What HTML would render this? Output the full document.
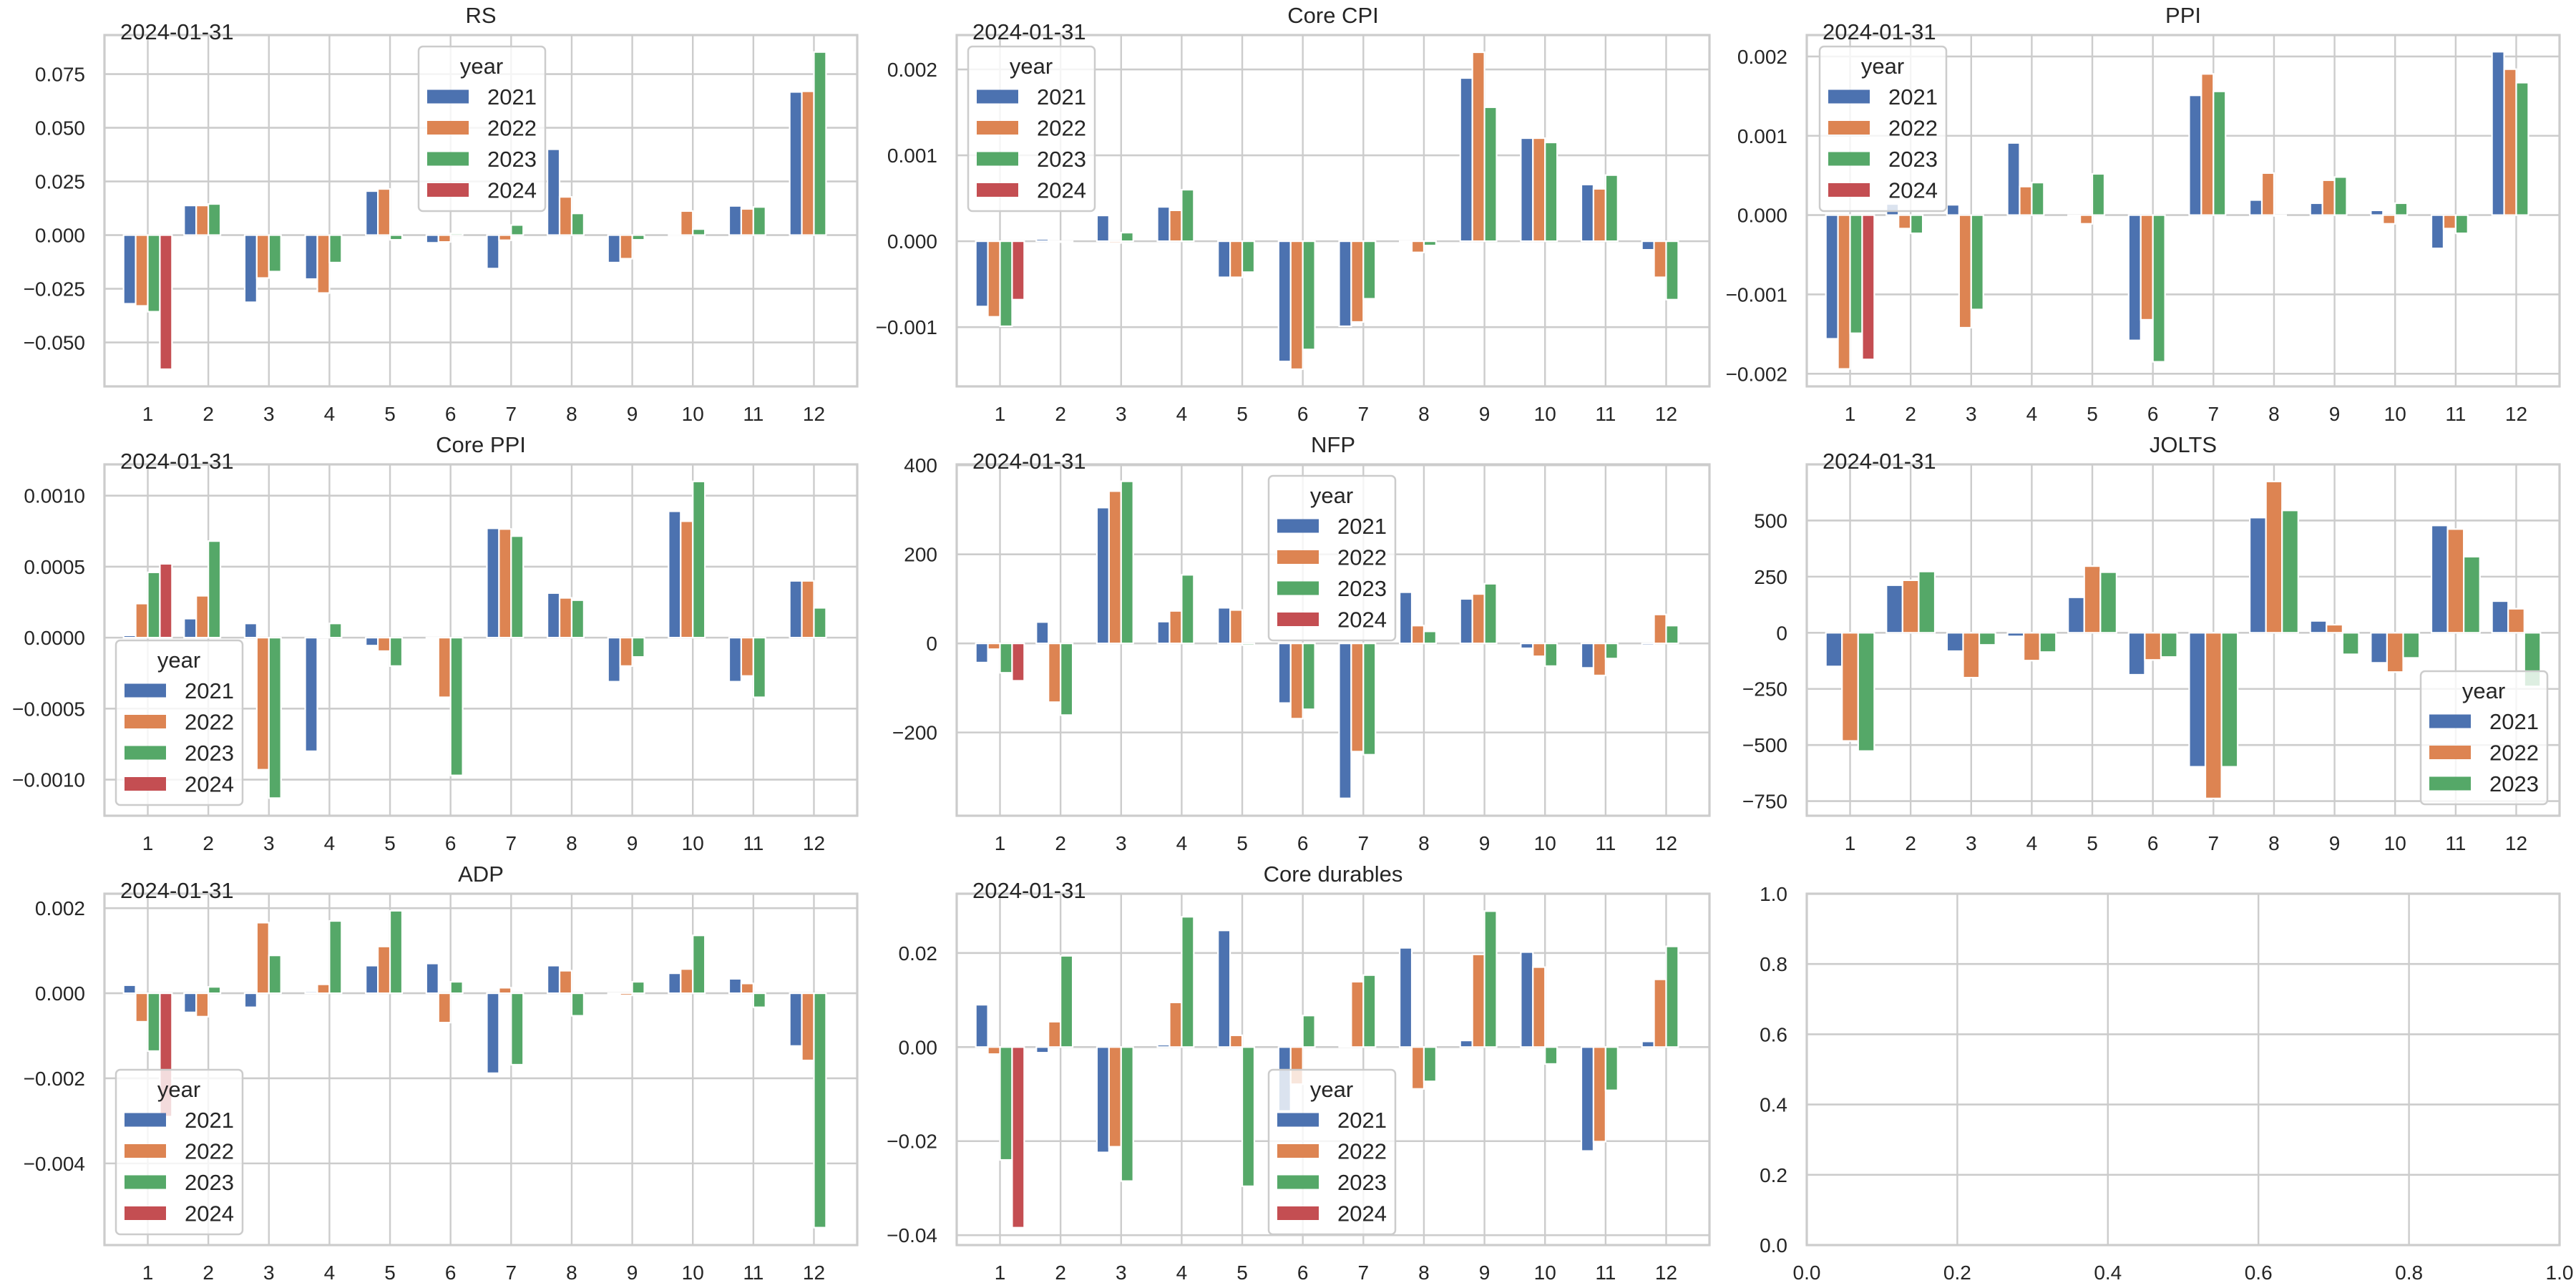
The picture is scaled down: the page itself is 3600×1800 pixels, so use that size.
<!DOCTYPE html>
<html><head><meta charset="utf-8"><style>
html,body{margin:0;padding:0;background:#fff}
svg{display:block;font-family:"Liberation Sans",Arial,sans-serif}
</style></head><body>
<svg id="fig" xmlns="http://www.w3.org/2000/svg" width="3600" height="1800" viewBox="0 0 3600 1800"></svg>
<script>
const months = [1,2,3,4,5,6,7,8,9,10,11,12];
const yearLabels = ['2021','2022','2023','2024'];
const colors = ['#4c72b0','#dd8452','#55a868','#c44e52'];
const N = null;
// RS
const rs2021 = [-0.032,0.0138,-0.0313,-0.0205,0.0205,-0.0036,-0.0156,0.040,-0.0128,0.0001,0.0136,0.0667];
const rs2022 = [-0.033,0.0138,-0.020,-0.027,0.0215,-0.0032,-0.0024,0.0178,-0.011,0.0112,0.0122,0.067];
const rs2023 = [-0.0357,0.0145,-0.017,-0.0128,-0.0022,0.0008,0.0047,0.0101,-0.0022,0.0028,0.0131,0.0853];
const rs2024 = [-0.0625,N,N,N,N,N,N,N,N,N,N,N];
const rsTicks = [-0.05,-0.025,0,0.025,0.05,0.075];
// Core CPI
const ccpi2021 = [-0.00076,0.000025,0.0003,0.0004,-0.00042,-0.0014,-0.00099,-0.00001,0.0019,0.0012,0.00066,-0.0001];
const ccpi2022 = [-0.00088,0,-0.00002,0.00036,-0.00042,-0.00149,-0.00094,-0.00013,0.0022,0.0012,0.00061,-0.00042];
const ccpi2023 = [-0.00099,-0.00001,0.0001,0.0006,-0.00036,-0.00126,-0.00067,-0.00005,0.00156,0.00115,0.00077,-0.00068];
const ccpi2024 = [-0.00068,N,N,N,N,N,N,N,N,N,N,N];
const ccpiTicks = [-0.001,0,0.001,0.002];
// PPI
const ppi2021 = [-0.00156,0.00014,0.00013,0.00091,0,-0.00158,0.00151,0.00019,0.00015,0.00006,-0.00042,0.00206];
const ppi2022 = [-0.00194,-0.00017,-0.00142,0.00036,-0.00011,-0.00132,0.00178,0.00053,0.00044,-0.00011,-0.00017,0.00184];
const ppi2023 = [-0.00149,-0.00023,-0.00119,0.00041,0.00052,-0.00185,0.00156,-0.00001,0.00048,0.00015,-0.00023,0.00167];
const ppi2024 = [-0.00182,N,N,N,N,N,N,N,N,N,N,N];
const ppiTicks = [-0.002,-0.001,0,0.001,0.002];
// Core PPI
const cppi2021 = [0.000016,0.000134,0.0001,-0.0008,-0.000056,0,0.00077,0.000314,-0.00031,0.00089,-0.00031,0.0004];
const cppi2022 = [0.00024,0.000295,-0.00093,0.00001,-0.000095,-0.00042,0.000765,0.00028,-0.0002,0.00082,-0.00027,0.0004];
const cppi2023 = [0.00046,0.00068,-0.00113,0.0001,-0.0002,-0.00097,0.000715,0.000264,-0.000136,0.0011,-0.00042,0.00021];
const cppi2024 = [0.00052,N,N,N,N,N,N,N,N,N,N,N];
const cppiTicks = [-0.001,-0.0005,0,0.0005,0.001];
// NFP
const nfp2021 = [-43,48,305,49,80,-134,-348,115,100,-11,-55,-4];
const nfp2022 = [-13,-132,342,73,75,-169,-243,40,111,-29,-72,65];
const nfp2023 = [-66,-161,364,154,-4,-148,-250,27,134,-51,-34,40];
const nfp2024 = [-84,N,N,N,N,N,N,N,N,N,N,N];
const nfpTicks = [-200,0,200,400];
// JOLTS
const jolts2021 = [-150,212,-82,-16,158,-187,-597,513,53,-134,478,141];
const jolts2022 = [-482,234,-200,-124,297,-121,-738,674,36,-175,462,107];
const jolts2023 = [-527,273,-54,-86,270,-108,-597,545,-96,-112,339,-239];
const joltsTicks = [-750,-500,-250,0,250,500];
// ADP
const adp2021 = [0.00019,-0.00045,-0.00033,0.00004,0.00065,0.0007,-0.00188,0.00065,0,0.00047,0.00034,-0.00124];
const adp2022 = [-0.00067,-0.00055,0.00166,0.00021,0.0011,-0.00069,0.00013,0.00053,-0.00005,0.00057,0.00023,-0.00158];
const adp2023 = [-0.00136,0.00015,0.00089,0.0017,0.00194,0.00027,-0.00168,-0.00053,0.00027,0.00136,-0.00033,-0.00551];
const adp2024 = [-0.0029,N,N,N,N,N,N,N,N,N,N,N];
const adpTicks = [-0.004,-0.002,0,0.002];
// Core durables
const cd2021 = [0.009,-0.0012,-0.0224,0.0005,0.0248,-0.0136,0.0003,0.0211,0.0014,0.0202,-0.0221,0.0012];
const cd2022 = [-0.0015,0.0054,-0.0212,0.0095,0.0025,-0.0079,0.0139,-0.0089,0.0197,0.017,-0.0201,0.0144];
const cd2023 = [-0.024,0.0194,-0.0285,0.0277,-0.0296,0.0067,0.0153,-0.0073,0.0289,-0.0036,-0.0092,0.0214];
const cd2024 = [-0.0384,N,N,N,N,N,N,N,N,N,N,N];
const cdTicks = [-0.04,-0.02,0,0.02];
const emptyTicks = [0,0.2,0.4,0.6,0.8,1.0];

const NS='http://www.w3.org/2000/svg';
const svg=document.getElementById('fig');
function mk(tag,attrs,parent){const e=document.createElementNS(NS,tag);for(const k in attrs)e.setAttribute(k,attrs[k]);(parent||svg).appendChild(e);return e;}
function fmt(v,d){const s=Math.abs(v).toFixed(d);return (v<-1e-12?'\u2212':'')+s;}

const colX=[146,1337,2525], rowY=[49,649,1249], AW=1052, AH=491;
const panels=[
 {name:'rs',title:'RS',c:0,r:0,series:[rs2021,rs2022,rs2023,rs2024],ylim:[-0.0705,0.0932],ticks:rsTicks,dec:3,leg:[585,65]},
 {name:'core-cpi',title:'Core CPI',c:1,r:0,series:[ccpi2021,ccpi2022,ccpi2023,ccpi2024],ylim:[-0.00169,0.0024],ticks:ccpiTicks,dec:3,leg:[1353,65]},
 {name:'ppi',title:'PPI',c:2,r:0,series:[ppi2021,ppi2022,ppi2023,ppi2024],ylim:[-0.00216,0.00227],ticks:ppiTicks,dec:3,leg:[2543,65]},
 {name:'core-ppi',title:'Core PPI',c:0,r:1,series:[cppi2021,cppi2022,cppi2023,cppi2024],ylim:[-0.001254,0.00122],ticks:cppiTicks,dec:4,leg:[162,895]},
 {name:'nfp',title:'NFP',c:1,r:1,series:[nfp2021,nfp2022,nfp2023,nfp2024],ylim:[-387,402],ticks:nfpTicks,dec:0,leg:[1773,665]},
 {name:'jolts',title:'JOLTS',c:2,r:1,series:[jolts2021,jolts2022,jolts2023],ylim:[-815,750],ticks:joltsTicks,dec:0,leg:[3383,938]},
 {name:'adp',title:'ADP',c:0,r:2,series:[adp2021,adp2022,adp2023,adp2024],ylim:[-0.00592,0.00234],ticks:adpTicks,dec:3,leg:[162,1495]},
 {name:'core-durables',title:'Core durables',c:1,r:2,series:[cd2021,cd2022,cd2023,cd2024],ylim:[-0.0421,0.0326],ticks:cdTicks,dec:2,leg:[1773,1495]}
];
const GRID='#cccccc';

function axesFrame(g,L,T,xTickPos,xTickLab,yTickPos,yTickLab){
  yTickPos.forEach((y,i)=>{
    const gl=mk('line',{x1:L,x2:L+AW,y1:y,y2:y,stroke:GRID,'stroke-width':2.6},g);
    
    
    const t=mk('text',{x:L-27,y:y+10,'text-anchor':'end','font-size':28,fill:'#262626'},g);
    t.textContent=yTickLab[i];
    
    
  });
  xTickPos.forEach((x,i)=>{
    const gl=mk('line',{x1:x,x2:x,y1:T,y2:T+AH,stroke:GRID,'stroke-width':2.4},g);
    
    
    const t=mk('text',{x:x,y:T+AH+48,'text-anchor':'middle','font-size':28,fill:'#262626'},g);
    t.textContent=xTickLab[i];
    
    
  });
}
function spines(g,L,T){
  const s=mk('rect',{x:L,y:T,width:AW,height:AH,fill:'none',stroke:GRID,'stroke-width':3.2},g);
  
  
}

panels.forEach(p=>{
  const L=colX[p.c],T=rowY[p.r];
  const g=mk('g',{});
  
  
  const x0=-0.715,x1=11.715;
  const xs=v=>L+(v-x0)/(x1-x0)*AW;
  const ys=v=>T+(p.ylim[1]-v)/(p.ylim[1]-p.ylim[0])*AH;
  axesFrame(g,L,T,months.map((m,i)=>xs(i)),months.map(String),p.ticks.map(ys),p.ticks.map(v=>fmt(v,p.dec)));
  const nh=p.series.length, bw=0.8/nh;
  p.series.forEach((arr,h)=>{
    arr.forEach((v,i)=>{
      if(v===null)return;
      const cx=i+(h-(nh-1)/2)*bw;
      const xa=xs(cx-bw/2), xb=xs(cx+bw/2);
      const y0=ys(0), yv=ys(v);
      const r=mk('rect',{x:xa,y:Math.min(y0,yv),width:xb-xa,height:Math.max(Math.abs(yv-y0),0.5),fill:colors[h],stroke:'#fff','stroke-width':2.2},g);
      
      
    });
  });
  spines(g,L,T);
  const tt=mk('text',{x:L+AW/2,y:T-17,'text-anchor':'middle','font-size':31,fill:'#262626'},g);
  tt.textContent=p.title;
  
  
  const dt=mk('text',{x:L+22,y:T+6,'font-size':31,fill:'#262626'},g);
  dt.textContent='2024-01-31';
  
  
  // legend
  const lx=p.leg[0],ly=p.leg[1],lh=nh===4?230:186;
  const lg=mk('g',{},g);
  
  
  mk('rect',{x:lx,y:ly,width:177,height:lh,rx:6,fill:'#fff','fill-opacity':0.8,stroke:'#cccccc','stroke-width':2.5},lg);
  const lt=mk('text',{x:lx+88,y:ly+38,'text-anchor':'middle','font-size':31,fill:'#262626'},lg);
  lt.textContent='year';
  
  
  for(let h=0;h<nh;h++){
    const cy=ly+70+h*43.5;
    const e=mk('g',{},lg);
    
    
    mk('rect',{x:lx+12,y:cy-9.5,width:58,height:19,fill:colors[h]},e);
    const et=mk('text',{x:lx+96,y:cy+11,'font-size':31,fill:'#262626'},e);
    et.textContent=yearLabels[h];
  }
});

// empty panel
(function(){
  const L=colX[2],T=rowY[2];
  const g=mk('g',{});
  
  
  const xs=v=>L+v*AW, ys=v=>T+(1-v)*AH;
  axesFrame(g,L,T,emptyTicks.map(xs),emptyTicks.map(v=>v.toFixed(1)),emptyTicks.map(ys),emptyTicks.map(v=>v.toFixed(1)));
  spines(g,L,T);
})();
</script>
</body></html>
